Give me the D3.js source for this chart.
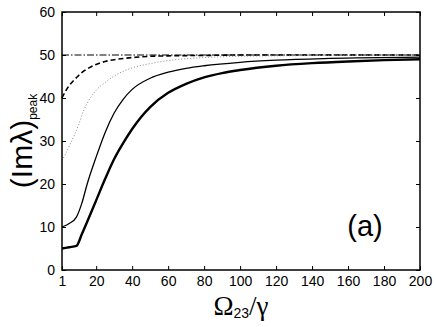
<!DOCTYPE html>
<html>
<head>
<meta charset="utf-8">
<script src="https://cdn.jsdelivr.net/npm/d3@7"></script>
<style>
  body { margin: 0; background: #fff; }
  text { font-family: "Liberation Sans", Arial, sans-serif; }
</style>
</head>
<body>
<script>
// values
var xTicks = [1, 20, 40, 60, 80, 100, 120, 140, 160, 180, 200];
var yTicks = [0, 10, 20, 30, 40, 50, 60];

var dashDotX = [1, 200];
var dashDotY = [50, 50];

var dashedX = [1, 3, 5, 8, 12, 16, 20, 25, 30, 40, 50, 60, 80, 100, 150, 200];
var dashedY = [40, 41.6, 42.9, 44.3, 45.9, 47, 47.8, 48.5, 48.9, 49.4, 49.7, 49.8, 49.9, 50, 50, 50];

var dottedX = [1, 3, 5, 8, 10, 13, 16, 20, 25, 30, 40, 50, 60, 80, 100, 150, 200];
var dottedY = [25.5, 27, 28.8, 31.5, 33.5, 37, 39.5, 41.8, 43.6, 45.1, 47, 48, 48.7, 49.4, 49.7, 49.9, 50];

var thinX = [1, 5, 9, 12, 15, 20, 25, 30, 35, 40, 50, 60, 70, 80, 100, 120, 150, 200];
var thinY = [10, 10.8, 12.3, 15.5, 20, 26.3, 32, 36.5, 39.7, 42, 44.6, 46, 46.9, 47.5, 48.3, 48.8, 49.2, 49.5];

var thickX = [1, 5, 9, 12, 15, 20, 25, 30, 35, 40, 45, 50, 60, 70, 80, 90, 100, 120, 140, 160, 180, 200];
var thickY = [5, 5.3, 5.6, 8.3, 11.2, 16.2, 21.2, 25.8, 29.5, 32.8, 35.6, 37.9, 41.2, 43.3, 44.8, 45.8, 46.5, 47.5, 48.1, 48.5, 48.8, 49];

var width = 436,
    height = 327;

// plot box (window.top is taken, so m-prefixed names)
var mLeft = 62, mRight = 420, mTop = 12, mBottom = 270;

var svg = d3.select("body").append("svg")
    .attr("width", width)
    .attr("height", height);

var x = d3.scaleLinear().domain([1, 200]).range([mLeft, mRight]);
var y = d3.scaleLinear().domain([0, 60]).range([mBottom, mTop]);

var line = d3.line()
    .x(function(d){ return x(d[0]); })
    .y(function(d){ return y(d[1]); })
    .curve(d3.curveMonotoneX);

function zip(a, b){
  return a.map(function(v, i){ return [v, b[i]]; });
}

var series = [
  {xs: dashDotX, ys: dashDotY, w: 1, dash: "7,2,1.5,2", color: "#000"},
  {xs: dashedX, ys: dashedY, w: 1.6, dash: "5,3", color: "#000"},
  {xs: dottedX, ys: dottedY, w: 1, dash: "1,2", color: "#888"},
  {xs: thinX, ys: thinY, w: 1.3, dash: null, color: "#000"},
  {xs: thickX, ys: thickY, w: 2.4, dash: null, color: "#000"}
];

svg.selectAll("path.curve")
  .data(series)
  .enter().append("path")
  .attr("class", "curve")
  .attr("fill", "none")
  .attr("stroke", function(d){ return d.color; })
  .attr("stroke-width", function(d){ return d.w; })
  .attr("stroke-dasharray", function(d){ return d.dash; })
  .attr("d", function(d){ return line(zip(d.xs, d.ys)); });

// axes, ticks inward on all four sides
var tl = 4;
svg.append("g")
    .attr("transform", "translate(0," + mBottom + ")")
    .call(d3.axisBottom(x).tickValues(xTicks).tickSizeInner(-tl).tickSizeOuter(0).tickPadding(6))
    .call(function(g){
      g.select(".domain").remove();
      g.selectAll("text").attr("font-size", 14).attr("font-family", "Liberation Sans, Arial, sans-serif").attr("fill", "#000");
    });
svg.append("g")
    .attr("transform", "translate(0," + mTop + ")")
    .call(d3.axisTop(x).tickValues(xTicks).tickSizeInner(-tl).tickSizeOuter(0).tickFormat(""))
    .call(function(g){ g.select(".domain").remove(); });
svg.append("g")
    .attr("transform", "translate(" + mLeft + ",0)")
    .call(d3.axisLeft(y).tickValues(yTicks).tickSizeInner(-tl).tickSizeOuter(0).tickPadding(7))
    .call(function(g){
      g.select(".domain").remove();
      g.selectAll("text").attr("font-size", 14).attr("font-family", "Liberation Sans, Arial, sans-serif").attr("fill", "#000");
    });
svg.append("g")
    .attr("transform", "translate(" + mRight + ",0)")
    .call(d3.axisRight(y).tickValues(yTicks).tickSizeInner(-tl).tickSizeOuter(0).tickFormat(""))
    .call(function(g){ g.select(".domain").remove(); });

svg.append("rect")
    .attr("x", mLeft).attr("y", mTop)
    .attr("width", mRight - mLeft).attr("height", mBottom - mTop)
    .attr("fill", "none").attr("stroke", "#000").attr("stroke-width", 1.5);

// y label
var yl = svg.append("text")
    .attr("transform", "translate(32," + ((mTop + mBottom) / 2) + ") rotate(-90)")
    .attr("text-anchor", "middle")
    .attr("font-size", 30);
yl.append("tspan").text("(Imλ)");
yl.append("tspan").attr("font-size", 12).attr("dy", 5).text("peak");

// x label
var xl = svg.append("text")
    .attr("x", (mLeft + mRight) / 2)
    .attr("y", 315)
    .attr("text-anchor", "middle");
xl.append("tspan").attr("font-family", "Liberation Serif, Times New Roman, serif").attr("font-size", 27).text("Ω");
xl.append("tspan").attr("font-size", 14).attr("dy", 3).text("23");
xl.append("tspan").attr("font-family", "Liberation Serif, Times New Roman, serif").attr("font-size", 27).attr("dy", -3).text("/γ");

svg.append("text")
    .attr("x", 365).attr("y", 236)
    .attr("text-anchor", "middle")
    .attr("font-size", 29)
    .text("(a)");
</script>
</body>
</html>
